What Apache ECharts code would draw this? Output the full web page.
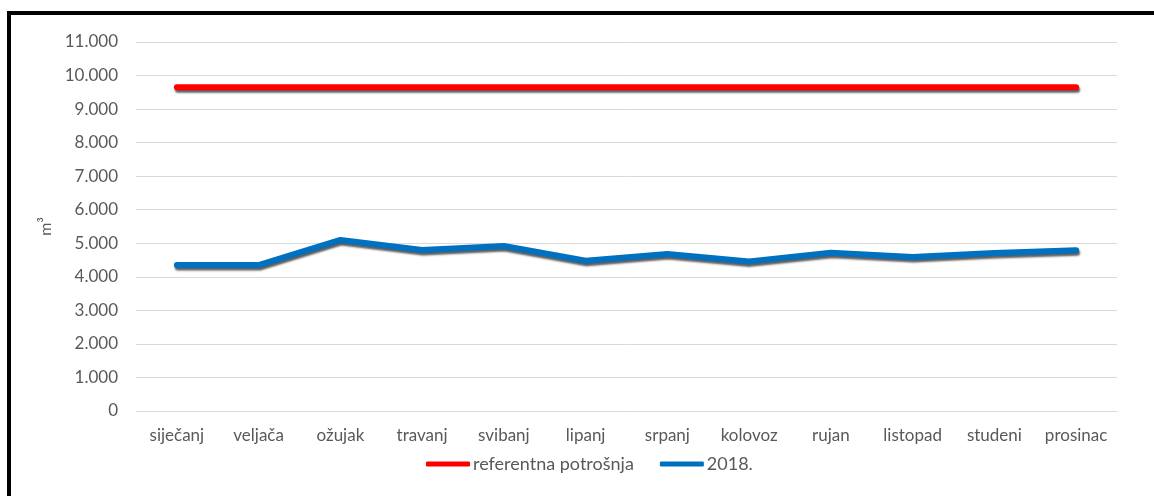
<!DOCTYPE html>
<html>
<head>
<meta charset="utf-8">
<script src="https://cdn.jsdelivr.net/npm/echarts@6/dist/echarts.min.js"></script>
<style>
html,body{margin:0;padding:0;background:#fff;}
#chart{width:1154px;height:496px;}
</style>
</head>
<body>
<div id="chart"></div>
<script>
const categories = ['siječanj','veljača','ožujak','travanj','svibanj','lipanj','srpanj','kolovoz','rujan','listopad','studeni','prosinac'];
const referentnaPotrosnja = [9650,9650,9650,9650,9650,9650,9650,9650,9650,9650,9650,9650];
const values2018 = [4350,4350,5100,4800,4920,4480,4680,4460,4720,4590,4710,4790];
const yTicks = {min:0, max:11000, interval:1000};

function fmt(v){
  return String(v).replace(/\B(?=(\d{3})+(?!\d))/g,'.');
}

const chart = echarts.init(document.getElementById('chart'), null, {renderer:'canvas'});
const font = 'Lato';
const shadow = {shadowColor:'rgba(40,40,40,0.75)', shadowOffsetX:1, shadowOffsetY:2.5, shadowBlur:2};
chart.setOption({
  backgroundColor:'#fff',
  animation:false,
  textStyle:{fontFamily:font},
  graphic:[
    {type:'rect', shape:{x:7,y:11,width:4,height:485}, style:{fill:'#000'}},
    {type:'rect', shape:{x:7,y:11,width:1147,height:4}, style:{fill:'#000'}}
  ],
  grid:{left:136, right:37, top:42, bottom:85},
  legend:{
    bottom:18,
    left:421,
    itemWidth:44, itemHeight:5, itemGap:26,
    icon:'roundRect',
    textStyle:{fontFamily:font, fontSize:18, color:'#595959', padding:[0,0,0,-2]},
    data:['referentna potrošnja','2018.']
  },
  xAxis:{
    type:'category',
    data:categories,
    boundaryGap:true,
    axisLine:{lineStyle:{color:'#d9d9d9', width:1}},
    axisTick:{show:false},
    axisLabel:{color:'#595959', fontSize:17, fontFamily:font, margin:16}
  },
  yAxis:{
    type:'value',
    min:yTicks.min, max:yTicks.max, interval:yTicks.interval,
    name:'m³',
    nameLocation:'middle',
    nameGap:82,
    nameRotate:90,
    nameTextStyle:{color:'#595959', fontSize:16, fontFamily:font},
    axisLine:{show:false},
    axisTick:{show:false},
    splitLine:{lineStyle:{color:'#d9d9d9', width:1}},
    axisLabel:{color:'#595959', fontSize:17, fontFamily:font, margin:18, formatter:fmt}
  },
  series:[
    {
      name:'referentna potrošnja', type:'line', data:referentnaPotrosnja,
      symbol:'none', color:'#FF0000',
      lineStyle:Object.assign({color:'#FF0000', width:6, cap:'round', join:'round'}, shadow)
    },
    {
      name:'2018.', type:'line', data:values2018,
      symbol:'none', color:'#0070C0',
      lineStyle:Object.assign({color:'#0070C0', width:6, cap:'round', join:'round'}, shadow)
    }
  ]
});
</script>
</body>
</html>
